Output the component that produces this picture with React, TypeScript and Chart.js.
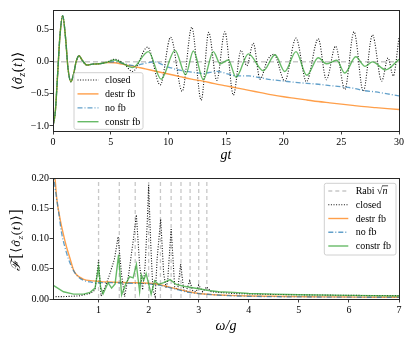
import React, { useEffect, useRef } from "react";
import { Chart, registerables } from "chart.js";
Chart.register(...registerables);

const FONT = "'Liberation Serif', 'DejaVu Serif', serif";

// ---------- top panel: <sigma_z(t)> vs gt ----------
const topXTicks = [0, 5, 10, 15, 20, 25, 30];
const topYTicks = [-1.0, -0.5, 0.0, 0.5];

// shared early-time dynamics (all four curves coincide)
const earlyT = [0, 0.2, 0.4, 0.6, 0.84, 1.1, 1.3, 1.55, 1.8, 2.0, 2.25, 2.55, 2.95, 3.4, 4.0, 4.6];
const earlyY = [-1.0, -0.78, -0.2, 0.4, 0.72, 0.35, -0.1, -0.31, -0.18, 0.0, 0.095, 0.02, -0.05, -0.035, -0.03, -0.01];

const closedT = [5.35, 6.1, 6.9, 8.2, 9.3, 10.2, 11.2, 12.03, 12.85, 13.5, 14.2, 14.9, 15.64, 16.3, 16.8, 17.37, 17.95, 18.6, 19.15, 20.1, 21.07, 21.97, 23.0, 23.7, 24.5, 25.3, 26.1, 26.9, 27.7, 28.5, 29.05, 29.5, 30];
const closedY = [0.04, -0.02, -0.15, 0.23, -0.36, 0.385, -0.46, 0.54, -0.6, 0.46, -0.29, 0.47, -0.52, 0.18, -0.06, 0.29, -0.27, 0.03, 0.12, -0.3, 0.37, -0.31, 0.36, -0.28, 0.245, -0.43, 0.47, -0.46, 0.42, -0.3, 0.06, -0.22, 0.38];

const destrT = [5.35, 6, 7, 8, 9, 10, 11, 12, 13, 14, 15, 16, 17, 18, 19, 20, 21, 22, 23, 24, 25, 26, 27, 28, 29, 30];
const destrY = [-0.015, -0.035, -0.07, -0.11, -0.15, -0.19, -0.23, -0.27, -0.3, -0.34, -0.375, -0.41, -0.445, -0.48, -0.515, -0.545, -0.57, -0.595, -0.62, -0.64, -0.66, -0.68, -0.7, -0.715, -0.73, -0.745];

const nofbT = [5.35, 6.2, 7.0, 7.8, 8.8, 9.8, 11.0, 12.0, 13.0, 14.2, 15.2, 16.0, 17.0, 18.0, 19.0, 20.0, 21.0, 22.0, 23.0, 24.0, 25.0, 26.0, 27.0, 28.0, 29.0, 30.0];
const nofbY = [0.0, -0.03, -0.06, -0.03, 0.0, -0.07, -0.13, -0.16, -0.18, -0.15, -0.19, -0.22, -0.22, -0.25, -0.28, -0.3, -0.32, -0.335, -0.35, -0.37, -0.39, -0.41, -0.45, -0.47, -0.5, -0.53];

const constrT = [5.35, 6.0, 6.9, 8.27, 9.37, 10.58, 11.5, 12.17, 13.04, 13.9, 14.5, 15.2, 15.87, 16.94, 18.24, 19.25, 20.1, 21.07, 22.0, 23.0, 23.7, 24.6, 25.3, 26.25, 27.06, 27.7, 28.85, 30];
const constrY = [0.03, -0.02, -0.09, 0.16, -0.27, 0.18, -0.2, 0.17, -0.28, 0.16, -0.03, 0.03, -0.24, 0.125, -0.14, 0.11, -0.15, 0.16, -0.21, 0.065, -0.03, 0.025, -0.175, 0.08, -0.07, 0.0, -0.125, 0.04];

// ---------- bottom panel: Fourier spectrum vs omega/g ----------
const botXTicks = [1, 2, 3, 4, 5, 6, 7];
const botYTicks = [0.0, 0.05, 0.1, 0.15, 0.2];
const rabiSqrtN = [1, 1.414, 1.732, 2, 2.236, 2.449, 2.646, 2.828, 3, 3.162];

const fClosedW = [0.09, 0.3, 0.6, 0.83, 0.93, 1.0, 1.05, 1.13, 1.22, 1.32, 1.39, 1.46, 1.52, 1.6, 1.69, 1.755, 1.82, 1.88, 1.93, 1.97, 2.0, 2.04, 2.085, 2.13, 2.17, 2.24, 2.3, 2.35, 2.38, 2.45, 2.52, 2.58, 2.64, 2.7, 2.75, 2.82, 2.88, 2.95, 3.0, 3.08, 3.16, 3.25, 3.4, 3.7, 4.0, 4.5, 5.0, 5.5, 6.0, 6.5, 7.0];
const fClosedF = [0.004, 0.004, 0.005, 0.009, 0.015, 0.064, 0.005, 0.02, 0.04, 0.067, 0.103, 0.04, 0.004, 0.04, 0.095, 0.139, 0.056, 0.015, 0.056, 0.122, 0.188, 0.095, 0.015, 0.004, 0.067, 0.132, 0.042, 0.018, 0.03, 0.117, 0.02, 0.015, 0.058, 0.015, 0.013, 0.03, 0.014, 0.012, 0.023, 0.012, 0.02, 0.012, 0.011, 0.009, 0.0085, 0.0075, 0.007, 0.0065, 0.006, 0.0058, 0.0055];

const fDestrW = [0.09, 0.13, 0.165, 0.23, 0.3, 0.36, 0.43, 0.5, 0.56, 0.69, 0.89, 1.2, 1.6, 2.0, 2.2, 2.5, 2.8, 3.0, 3.3, 3.6, 4.0, 4.5, 5.0, 5.5, 6.0, 6.5, 7.0];
const fDestrF = [0.23, 0.2, 0.166, 0.133, 0.106, 0.086, 0.067, 0.048, 0.04, 0.033, 0.03, 0.028, 0.027, 0.026, 0.024, 0.018, 0.012, 0.009, 0.007, 0.006, 0.005, 0.0045, 0.004, 0.0035, 0.0032, 0.003, 0.003];

const fNofbW = [0.09, 0.13, 0.2, 0.26, 0.33, 0.4, 0.5, 0.6, 0.7, 0.85, 1.0, 1.3, 1.6, 2.0, 2.2, 2.5, 2.8, 3.0, 3.3, 3.6, 4.0, 5.0, 6.0, 7.0];
const fNofbF = [0.21, 0.185, 0.145, 0.11, 0.085, 0.066, 0.047, 0.036, 0.031, 0.028, 0.027, 0.027, 0.026, 0.025, 0.023, 0.017, 0.011, 0.009, 0.007, 0.0055, 0.0045, 0.0035, 0.003, 0.0028];

const fConstrW = [0.09, 0.3, 0.5, 0.7, 0.83, 0.93, 1.0, 1.04, 1.09, 1.19, 1.26, 1.33, 1.4, 1.46, 1.55, 1.62, 1.69, 1.755, 1.82, 1.855, 1.9, 1.95, 2.05, 2.12, 2.2, 2.3, 2.43, 2.55, 2.7, 2.85, 3.0, 3.2, 3.4, 3.7, 4.0, 4.5, 5.0, 6.0, 7.0];
const fConstrF = [0.023, 0.012, 0.008, 0.008, 0.011, 0.018, 0.053, 0.02, 0.0085, 0.027, 0.018, 0.025, 0.073, 0.007, 0.026, 0.037, 0.035, 0.057, 0.012, 0.04, 0.031, 0.042, 0.008, 0.03, 0.024, 0.027, 0.032, 0.024, 0.021, 0.019, 0.017, 0.014, 0.012, 0.011, 0.009, 0.008, 0.007, 0.006, 0.005];

// ---------- styles ----------
const C_CLOSED = "#111111";
const C_DESTR = "rgba(255,127,14,0.75)";
const C_NOFB = "rgba(31,119,180,0.7)";
const C_CONSTR = "rgba(44,160,44,0.72)";
const C_GREY = "#c8c8c8";

function pts(xs: number[], ys: number[]) {
  return xs.map((x, i) => ({ x, y: ys[i] }));
}

type Piece = { t: string; it?: boolean; sub?: boolean; hat?: boolean; big?: boolean };

function drawRich(ctx: CanvasRenderingContext2D, pieces: Piece[], cx: number, cy: number, size: number, rotate: boolean, gap: number) {
  ctx.save();
  ctx.translate(cx, cy);
  if (rotate) ctx.rotate(-Math.PI / 2);
  const fontOf = (p: Piece) => `${p.it ? "italic " : ""}${p.sub ? Math.round(size * 0.7) : p.big ? Math.round(size * 1.25) : size}px ${FONT}`;
  let total = 0;
  const ws = pieces.map((p) => {
    ctx.font = fontOf(p);
    const w = ctx.measureText(p.t).width + gap;
    total += w;
    return w;
  });
  total -= gap;
  let x = -total / 2;
  ctx.fillStyle = "#000";
  ctx.strokeStyle = "#000";
  ctx.textAlign = "left";
  ctx.textBaseline = "alphabetic";
  const base = size * 0.33;
  pieces.forEach((p, i) => {
    ctx.font = fontOf(p);
    const y = base + (p.sub ? size * 0.22 : 0) + (p.big ? size * 0.08 : 0);
    ctx.fillText(p.t, x, y);
    if (p.hat) {
      const w = ws[i] - gap;
      ctx.lineWidth = 0.8;
      ctx.beginPath();
      ctx.moveTo(x + w * 0.3 + 1, y - size * 0.52);
      ctx.lineTo(x + w * 0.58 + 1, y - size * 0.68);
      ctx.lineTo(x + w * 0.86 + 1, y - size * 0.52);
      ctx.stroke();
    }
    x += ws[i];
  });
  ctx.restore();
}

const sigmaPieces: Piece[] = [
  { t: "\u27E8" },
  { t: "\u03C3", it: true, hat: true },
  { t: "z", it: true, sub: true },
  { t: "(" },
  { t: "t", it: true },
  { t: ")" },
  { t: "\u27E9" },
];

const framePlugin = {
  id: "frame",
  afterDraw(chart: any) {
    const { ctx, chartArea: a } = chart;
    ctx.save();
    ctx.strokeStyle = "#262626";
    ctx.lineWidth = 1;
    ctx.strokeRect(Math.round(a.left) + 0.5, Math.round(a.top) + 0.5, Math.round(a.right - a.left), Math.round(a.bottom - a.top));
    ctx.restore();
  },
};

const legendPlugin = {
  id: "boxLegend",
  afterDraw(chart: any, _args: any, opts: any) {
    if (!opts || !opts.box) return;
    const { ctx, chartArea: a } = chart;
    const items = chart.data.datasets.filter((d: any) => d.label && !d.noLegend);
    const b = opts.box;
    const left = b.anchor === "bl" ? a.left + b.dx : a.right - b.dx - b.w;
    const top = b.anchor === "bl" ? a.bottom - b.dy - b.h : a.top + b.dy;
    ctx.save();
    ctx.fillStyle = "rgba(255,255,255,0.85)";
    ctx.strokeStyle = "#d0d0d0";
    ctx.lineWidth = 1;
    const r = 2;
    ctx.beginPath();
    ctx.moveTo(left + r, top);
    ctx.lineTo(left + b.w - r, top);
    ctx.quadraticCurveTo(left + b.w, top, left + b.w, top + r);
    ctx.lineTo(left + b.w, top + b.h - r);
    ctx.quadraticCurveTo(left + b.w, top + b.h, left + b.w - r, top + b.h);
    ctx.lineTo(left + r, top + b.h);
    ctx.quadraticCurveTo(left, top + b.h, left, top + b.h - r);
    ctx.lineTo(left, top + r);
    ctx.quadraticCurveTo(left, top, left + r, top);
    ctx.closePath();
    ctx.fill();
    ctx.stroke();
    items.forEach((d: any, i: number) => {
      const y = top + b.first + i * b.step;
      ctx.strokeStyle = d.borderColor;
      ctx.lineWidth = d.borderWidth;
      ctx.setLineDash(d.borderDash || []);
      ctx.beginPath();
      ctx.moveTo(left + b.l0, y);
      ctx.lineTo(left + b.l1, y);
      ctx.stroke();
      ctx.setLineDash([]);
      ctx.fillStyle = "#000";
      ctx.textBaseline = "middle";
      ctx.textAlign = "left";
      ctx.font = `10px ${FONT}`;
      const tx = left + b.tx;
      if (d.label === "Rabi \u221An") {
        const s1 = "Rabi ";
        ctx.fillText(s1, tx, y);
        let x = tx + ctx.measureText(s1).width;
        ctx.fillText("\u221A", x, y);
        x += ctx.measureText("\u221A").width;
        ctx.font = `italic 10px ${FONT}`;
        ctx.fillText("n", x, y);
        const wn = ctx.measureText("n").width;
        ctx.strokeStyle = "#000";
        ctx.lineWidth = 0.7;
        ctx.beginPath();
        ctx.moveTo(x - 0.5, y - 5.2);
        ctx.lineTo(x + wn + 0.5, y - 5.2);
        ctx.stroke();
      } else {
        ctx.fillText(d.label, tx, y + 0.5);
      }
    });
    ctx.restore();
  },
};

const titlesPlugin = {
  id: "axisTitles",
  afterDraw(chart: any, _args: any, opts: any) {
    if (!opts || !opts.titles) return;
    const { ctx } = chart;
    const t = opts.titles;
    drawRich(ctx, t.y, t.yx, t.yy, t.ys, true, t.gap);
    ctx.save();
    ctx.fillStyle = "#000";
    ctx.font = `italic 14px ${FONT}`;
    ctx.textAlign = "center";
    ctx.textBaseline = "middle";
    ctx.fillText(t.x, t.xx, t.xy);
    ctx.restore();
  },
};

function fmtMinus(s: string) {
  return s.replace("-", "\u2212");
}

function axisBase(ticks: number[], fmt: (v: number) => string, fitKey: "width" | "height", fitVal: number, min: number, max: number, pad: number) {
  return {
    type: "linear" as const,
    min,
    max,
    afterBuildTicks: (scale: any) => {
      scale.ticks = ticks.map((v) => ({ value: v }));
    },
    afterFit: (scale: any) => {
      scale[fitKey] = fitVal;
    },
    grid: { display: true, drawOnChartArea: false, drawTicks: true, tickLength: 3.5, tickColor: "#262626", tickWidth: 0.9 },
    border: { display: true, color: "#262626", width: 1 },
    ticks: {
      color: "#000",
      font: { family: FONT, size: 10 },
      padding: pad,
      maxRotation: 0,
      autoSkip: false,
      callback: (v: any) => fmt(Number(v)),
    },
  };
}

function useChart(ref: React.RefObject<HTMLCanvasElement>, build: () => any) {
  useEffect(() => {
    if (!ref.current) return;
    const chart = new Chart(ref.current, build());
    return () => chart.destroy();
  }, []);
}

function lineDs(label: string | undefined, data: any[], color: string, width: number, dash: number[], order: number, mode: "mono" | "straight", noLegend = false) {
  return {
    label,
    data,
    borderColor: color,
    backgroundColor: color,
    borderWidth: width,
    borderDash: dash,
    pointRadius: 0,
    fill: false,
    order,
    noLegend,
    spanGaps: false,
    tension: mode === "mono" ? 0.4 : 0,
    cubicInterpolationMode: mode === "mono" ? "monotone" : "default",
  };
}

function TopChart() {
  const ref = useRef<HTMLCanvasElement>(null);
  useChart(ref, () => ({
    type: "line",
    data: {
      datasets: [
        lineDs(undefined, [{ x: 0, y: 0 }, { x: 30, y: 0 }], C_GREY, 1.5, [5, 3], 10, "straight", true),
        lineDs("closed", pts(earlyT.concat(closedT), earlyY.concat(closedY)), C_CLOSED, 1.1, [1, 1.6], 4, "mono"),
        lineDs("destr fb", pts(earlyT.concat(destrT), earlyY.concat(destrY)), C_DESTR, 1.4, [], 3, "mono"),
        lineDs("no fb", pts(earlyT.concat(nofbT), earlyY.concat(nofbY)), C_NOFB, 1.3, [5, 2, 1, 2], 2, "mono"),
        lineDs("constr fb", pts(earlyT.concat(constrT), earlyY.concat(constrY)), C_CONSTR, 1.4, [], 1, "mono"),
      ],
    },
    options: {
      responsive: false,
      animation: false,
      devicePixelRatio: 1,
      parsing: true,
      layout: { padding: { left: 0, top: 10, right: 16, bottom: 0 } },
      plugins: {
        legend: { display: false },
        tooltip: { enabled: false },
        boxLegend: { box: { anchor: "bl", dx: 21, dy: 1.7, w: 69, h: 56.6, first: 7.3, step: 13.9, l0: 3.5, l1: 24.5, tx: 31 } },
        axisTitles: { titles: { y: sigmaPieces, yx: 17, yy: 71, ys: 14, gap: 0.6, x: "gt", xx: 226, xy: 155 } },
      },
      scales: {
        x: axisBase(topXTicks, (v) => String(v), "height", 39, 0, 30, 2),
        y: axisBase(topYTicks, (v) => fmtMinus(v.toFixed(1)), "width", 53, -1.08, 0.81, 0.5),
      },
    },
    plugins: [framePlugin, legendPlugin, titlesPlugin],
  }));
  return <canvas ref={ref} width={415} height={170} style={{ position: "absolute", left: 0, top: 0 }} />;
}

function BottomChart() {
  const ref = useRef<HTMLCanvasElement>(null);
  const rabiData: any[] = [];
  rabiSqrtN.forEach((w) => {
    rabiData.push({ x: w, y: -0.01 }, { x: w, y: 0.21 }, { x: w, y: null });
  });
  useChart(ref, () => ({
    type: "line",
    data: {
      datasets: [
        lineDs("Rabi \u221An", rabiData, C_GREY, 1.3, [4, 3], 10, "straight"),
        lineDs("closed", pts(fClosedW, fClosedF), C_CLOSED, 1.1, [1, 1.6], 4, "straight"),
        lineDs("destr fb", pts(fDestrW, fDestrF), C_DESTR, 1.4, [], 3, "mono"),
        lineDs("no fb", pts(fNofbW, fNofbF), C_NOFB, 1.3, [5, 2, 1, 2], 2, "mono"),
        lineDs("constr fb", pts(fConstrW, fConstrF), C_CONSTR, 1.4, [], 1, "straight"),
      ],
    },
    options: {
      responsive: false,
      animation: false,
      devicePixelRatio: 1,
      layout: { padding: { left: 0, top: 8, right: 16, bottom: 0 } },
      plugins: {
        legend: { display: false },
        tooltip: { enabled: false },
        boxLegend: { box: { anchor: "tr", dx: 3, dy: 5.3, w: 71.7, h: 71.7, first: 7.7, step: 13.75, l0: 4, l1: 24, tx: 31.4 } },
        axisTitles: {
          titles: {
            y: [{ t: "\u2131", it: true }, { t: "[", big: true }, ...sigmaPieces, { t: "]", big: true }],
            yx: 16,
            yy: 70,
            ys: 13,
            gap: 0.8,
            x: "\u03C9/g",
            xx: 226,
            xy: 156,
          },
        },
      },
      scales: {
        x: axisBase(botXTicks, (v) => String(v), "height", 47, 0.09, 7, 2),
        y: axisBase(botYTicks, (v) => v.toFixed(2), "width", 53, 0, 0.2, 0.5),
      },
    },
    plugins: [framePlugin, legendPlugin, titlesPlugin],
  }));
  return <canvas ref={ref} width={415} height={176} style={{ position: "absolute", left: 0, top: 170 }} />;
}

export default function App() {
  return (
    <div style={{ position: "absolute", left: 0, top: 0, width: 415, height: 346, background: "#fff" }}>
      <TopChart />
      <BottomChart />
    </div>
  );
}
